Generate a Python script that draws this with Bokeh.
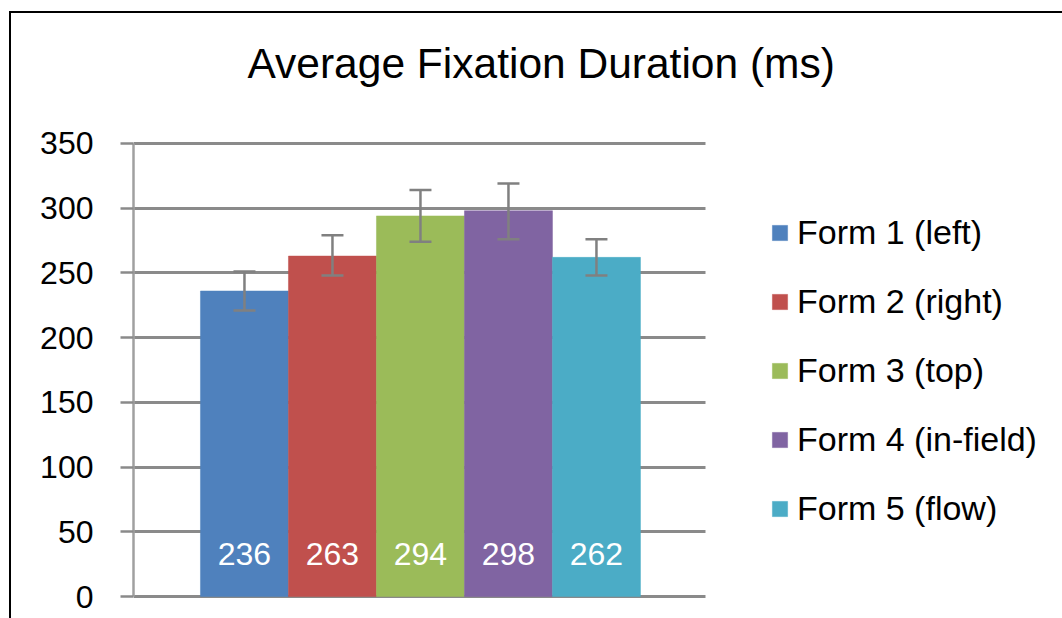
from bokeh.plotting import figure
from bokeh.models import (Range1d, ColumnDataSource, Whisker, TeeHead, Legend,
                          LegendItem, InlineStyleSheet, SingleIntervalTicker, Title, Grid)
from bokeh.core.properties import value
from bokeh.embed import file_html
from bokeh.resources import INLINE

# ---- data ----
forms = ["Form 1 (left)", "Form 2 (right)", "Form 3 (top)", "Form 4 (in-field)", "Form 5 (flow)"]
means = [236, 263, 294, 298, 262]
err_upper = [251, 279, 314, 319, 276]
err_lower = [221, 248, 274, 276, 248]
colors = ["#4F81BD", "#C0504D", "#9BBB59", "#8064A2", "#4BACC6"]
positions = [1, 2, 3, 4, 5]
title_text = "Average Fixation Duration (ms)"

FONT = "Liberation Sans"
LABEL_Y = 33
X_START, X_GRID_END, X_END = -0.261, 6.239, 10.296

src = ColumnDataSource(dict(x=positions, top=means, upper=err_upper, lower=err_lower,
                            color=colors, form=forms, lab=[str(v) for v in means]))

p = figure(width=1062, height=618, output_backend="svg", toolbar_location=None,
           x_range=Range1d(X_START, X_END), y_range=Range1d(-1.5, 351.5),
           min_border_left=133, min_border_right=0, min_border_top=141, min_border_bottom=20,
           title=None)
p.background_fill_color = "white"
p.border_fill_color = "white"
p.outline_line_color = None

# spacer (closest to frame) then the visible title
p.add_layout(Title(text=" ", text_font_size="1px", standoff=47), "above")
p.add_layout(Title(text=title_text, text_font=FONT, text_font_size="42.5px",
                   text_font_style="normal", text_color="#000000",
                   align="left", offset=114, standoff=10), "above")

# axes
p.xaxis.visible = False
ya = p.yaxis[0]
ya.ticker = SingleIntervalTicker(interval=50)
ya.bounds = (0, 350)
ya.axis_line_color = "#a0a0a0"
ya.axis_line_width = 2.5
ya.major_tick_line_color = "#8a8a8a"
ya.major_tick_line_width = 2.5
ya.major_tick_out = 13
ya.major_tick_in = 0
ya.minor_tick_line_color = None
ya.major_label_text_font = FONT
ya.major_label_text_font_size = "32px"
ya.major_label_text_color = "#000000"
ya.major_label_standoff = 27

p.xgrid.visible = False
yg = p.ygrid[0]
yg.grid_line_color = "#8a8a8a"
yg.grid_line_width = 3
yg.ticker = SingleIntervalTicker(interval=50)
if "cross_bounds" in Grid.properties():
    yg.cross_bounds = (X_START, X_GRID_END)

bars = p.vbar(x="x", top="top", bottom=0, width=1.0, source=src,
              fill_color="color", line_color="color", line_width=0.5)

wh = Whisker(base="x", upper="upper", lower="lower", source=src,
             line_color="#808080", line_width=2.5, level="overlay",
             upper_head=TeeHead(size=22, line_color="#808080", line_width=2.5),
             lower_head=TeeHead(size=22, line_color="#808080", line_width=2.5))
p.add_layout(wh)

p.text(x="x", y=LABEL_Y, text="lab", source=src, text_color="white",
       text_font=value(FONT), text_font_size="32px", text_align="center",
       text_baseline="middle")

items = [LegendItem(label=forms[i], renderers=[bars], index=i) for i in range(len(forms))]
legend = Legend(items=items, location=(637, 70), orientation="vertical",
                glyph_width=19, glyph_height=19, label_height=39, spacing=30,
                label_standoff=8, padding=0, margin=0,
                label_text_font=FONT, label_text_font_size="34px", label_text_color="#000000",
                border_line_color=None, background_fill_alpha=0)
p.add_layout(legend, "center")

p.stylesheets = [InlineStyleSheet(css=":host{position:relative;} :host::after{content:'';position:absolute;left:9px;top:11px;right:0;bottom:0;border-left:2px solid #000;border-top:2px solid #000;pointer-events:none;z-index:100;}")]

open("out.html", "w").write(file_html(p, INLINE))
